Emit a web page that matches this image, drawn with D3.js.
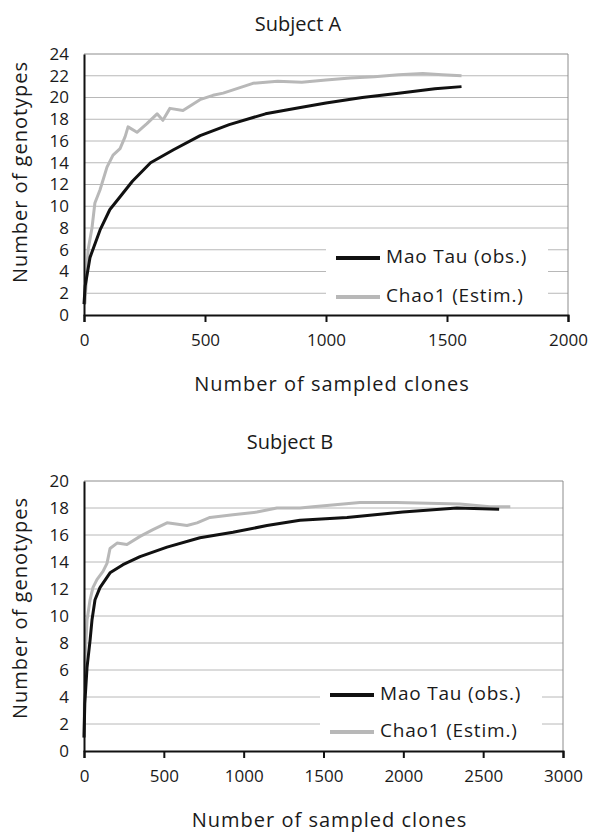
<!DOCTYPE html>
<html>
<head>
<meta charset="utf-8">
<script src="https://cdn.jsdelivr.net/npm/d3@7"></script>
<style>
  body { margin: 0; background: #fff; }
  svg text { font-family: "Open Sans", sans-serif; fill: #1a1a1a; }
</style>
</head>
<body>
<svg id="chart" width="591" height="832"></svg>
<script>
// ---- Subject A ----
const aMaoX   = [0, 5, 25, 66, 107, 150, 200, 275, 370, 480, 600, 750, 900, 1000, 1150, 1300, 1450, 1560];
const aMaoY   = [1, 2.7, 5.3, 7.8, 9.7, 10.9, 12.3, 14, 15.2, 16.5, 17.5, 18.5, 19.1, 19.5, 20.0, 20.4, 20.8, 21.0];
const aChaoX  = [0, 4, 17, 33, 45, 66, 95, 120, 149, 170, 182, 219, 260, 302, 326, 355, 409, 479, 533, 575, 616, 657, 698, 800, 900, 1000, 1100, 1200, 1300, 1400, 1480, 1560];
const aChaoY  = [1, 1.1, 6, 8, 10.3, 11.5, 13.6, 14.7, 15.3, 16.4, 17.3, 16.8, 17.6, 18.5, 17.9, 19, 18.8, 19.8, 20.2, 20.4, 20.7, 21, 21.3, 21.5, 21.4, 21.6, 21.8, 21.9, 22.1, 22.2, 22.1, 22.0];
const aXTicks = [0, 500, 1000, 1500, 2000];
const aYTicks = [0, 2, 4, 6, 8, 10, 12, 14, 16, 18, 20, 22, 24];

// ---- Subject B ----
const bMaoX   = [0, 5, 19, 38, 50, 69, 100, 163, 244, 351, 520, 726, 933, 1146, 1353, 1647, 1997, 2335, 2600];
const bMaoY   = [1, 3.5, 6.2, 8.2, 9.7, 11.2, 12.1, 13.2, 13.8, 14.4, 15.1, 15.8, 16.2, 16.7, 17.1, 17.3, 17.7, 18.0, 17.9];
const bChaoX  = [0, 6, 19, 38, 56, 81, 119, 144, 163, 207, 269, 351, 432, 520, 645, 708, 789, 933, 1083, 1208, 1353, 1434, 1728, 1957, 2354, 2542, 2670];
const bChaoY  = [1, 6.7, 9.7, 11.2, 12.1, 12.7, 13.3, 13.9, 15.0, 15.4, 15.3, 15.9, 16.4, 16.9, 16.7, 16.9, 17.3, 17.5, 17.7, 18.0, 18.0, 18.1, 18.4, 18.4, 18.3, 18.1, 18.1];
const bXTicks = [0, 500, 1000, 1500, 2000, 2500, 3000];
const bYTicks = [0, 2, 4, 6, 8, 10, 12, 14, 16, 18, 20];

const seriesNames = ["Mao Tau (obs.)", "Chao1 (Estim.)"];
const seriesColors = ["#111111", "#b8b8b8"];

const svg = d3.select("#chart");

function drawPanel(p) {
    let g = svg.append("g");

    let x = d3.scaleLinear().domain([0, p.xMax]).range([p.left, p.right]);
    let y = d3.scaleLinear().domain([0, p.yMax]).range([p.bottom, p.top]);

    // horizontal gridlines
    g.append("g").selectAll("line").data(p.yTicks.filter(d => d > 0)).join("line")
        .attr("x1", p.left).attr("x2", p.right)
        .attr("y1", d => y(d)).attr("y2", d => y(d))
        .attr("stroke", d => d == p.yMax ? "#8c8c8c" : "#b8b8b8").attr("stroke-width", 1);

    // right border
    g.append("line").attr("x1", p.right).attr("x2", p.right)
        .attr("y1", p.top).attr("y2", p.bottom)
        .attr("stroke", "#8c8c8c").attr("stroke-width", 1);

    // legend background hides the gridlines behind it
    g.append("rect")
        .attr("x", p.legX - 10).attr("y", p.legY - 18)
        .attr("width", p.legW).attr("height", p.legGap + 36)
        .attr("fill", "#fff");

    // series
    let line = d3.line().x(d => x(d[0])).y(d => y(d[1]));
    let series = [d3.zip(p.maoX, p.maoY), d3.zip(p.chaoX, p.chaoY)];
    // draw Chao1 first so the observed curve sits on top
    [1, 0].forEach(i => {
        g.append("path").datum(series[i])
            .attr("d", line)
            .attr("fill", "none")
            .attr("stroke", seriesColors[i])
            .attr("stroke-width", 3)
            .attr("stroke-linejoin", "round");
    });

    // x axis
    let xAxis = d3.axisBottom(x).tickValues(p.xTicks).tickFormat(d3.format("d"))
        .tickSize(7).tickPadding(12);
    let gx = g.append("g").attr("transform", `translate(0,${p.bottom})`).call(xAxis);
    gx.select(".domain").attr("stroke", "#111").attr("stroke-width", 2);
    gx.selectAll(".tick line").attr("stroke", "#111").attr("stroke-width", 2);
    gx.selectAll(".tick text").attr("font-size", 17).attr("fill", "#1a1a1a")
        .style("font-family", "'Open Sans', sans-serif");

    // y axis
    let yAxis = d3.axisLeft(y).tickValues(p.yTicks).tickSize(0).tickPadding(15);
    let gy = g.append("g").attr("transform", `translate(${p.left},0)`).call(yAxis);
    gy.select(".domain").attr("stroke", "#111").attr("stroke-width", 2);
    gy.selectAll(".tick text").attr("font-size", 17).attr("fill", "#1a1a1a")
        .style("font-family", "'Open Sans', sans-serif");

    // titles
    g.append("text").attr("x", p.titleX).attr("y", p.titleY)
        .attr("text-anchor", "middle").attr("dominant-baseline", "middle")
        .attr("font-size", 20).text(p.title);

    g.append("text").attr("x", (p.left + p.right) / 2 + 6).attr("y", p.bottom + 71)
        .attr("text-anchor", "middle").attr("dominant-baseline", "middle")
        .attr("font-size", 20).attr("letter-spacing", 1)
        .text("Number of sampled clones");

    g.append("text")
        .attr("transform", `translate(22,${p.yTitleY}) rotate(-90)`)
        .attr("text-anchor", "middle").attr("dominant-baseline", "middle")
        .attr("font-size", 20).attr("letter-spacing", 1)
        .text("Number of genotypes");

    // legend
    seriesNames.forEach((name, i) => {
        let ly = p.legY + i * p.legGap;
        g.append("line").attr("x1", p.legX).attr("x2", p.legX + 44)
            .attr("y1", ly).attr("y2", ly)
            .attr("stroke", seriesColors[i]).attr("stroke-width", 4);
        g.append("text").attr("x", p.legX + 50).attr("y", ly)
            .attr("dominant-baseline", "middle")
            .attr("font-size", 19).attr("letter-spacing", 0.8)
            .text(name);
    });
}

drawPanel({
    title: "Subject A", titleX: 298, titleY: 26,
    left: 84, right: 568, top: 54, bottom: 315,
    xMax: 2000, yMax: 24, xTicks: aXTicks, yTicks: aYTicks,
    maoX: aMaoX, maoY: aMaoY, chaoX: aChaoX, chaoY: aChaoY,
    legX: 336, legY: 258, legGap: 39, legW: 222, yTitleY: 172
});

drawPanel({
    title: "Subject B", titleX: 290, titleY: 444,
    left: 84, right: 563, top: 481, bottom: 751,
    xMax: 3000, yMax: 20, xTicks: bXTicks, yTicks: bYTicks,
    maoX: bMaoX, maoY: bMaoY, chaoX: bChaoX, chaoY: bChaoY,
    legX: 330, legY: 695, legGap: 37, legW: 222, yTitleY: 608
});
</script>
</body>
</html>
